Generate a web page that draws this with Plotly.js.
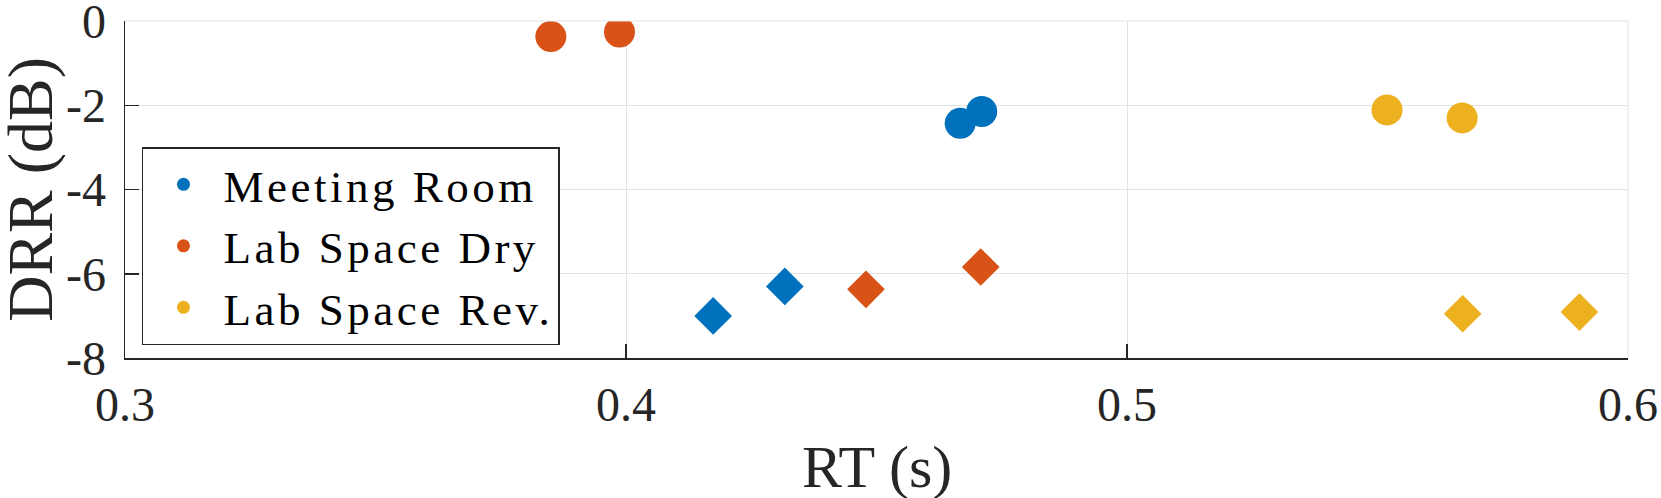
<!DOCTYPE html>
<html>
<head>
<meta charset="utf-8">
<script src="https://cdn.plot.ly/plotly-3.0.1.min.js"></script>
<style>
body{margin:0;background:#fff;}
.legendtext{letter-spacing:3.5px;}
</style>
</head>
<body>
<div id="drr" style="width:1661px;height:498px;"></div>
<script>
// rooms and their colours
var rooms = ["Meeting Room", "Lab Space Dry", "Lab Space Rev."];
var roomColors = ["#0072BD", "#D95319", "#EDB120"];

// circles: first condition, per room
var rtCircle = [[0.4667, 0.4710], [0.3850, 0.3987], [0.5519, 0.5669]];
var drrCircle = [[-2.43, -2.15], [-0.37, -0.26], [-2.11, -2.30]];

// diamonds: second condition, per room
var rtDiamond = [[0.4174, 0.4317], [0.4479, 0.4708], [0.5670, 0.5903]];
var drrDiamond = [[-7.00, -6.30], [-6.37, -5.84], [-6.95, -6.91]];

var yTicks = [-8, -6, -4, -2, 0];
var yTickText = ["-8", "-6", "-4", "-2", "0"];
var xTicks = [0.3, 0.4, 0.5, 0.6];
var xTickText = ["0.3", "0.4", "0.5", "0.6"];

var serif = "Liberation Serif, Times New Roman, serif";
var data = [];

for (var i = 0; i < rooms.length; i++) {
  data.push({
    x: rtCircle[i], y: drrCircle[i], type: "scatter", mode: "markers",
    showlegend: false, hoverinfo: "skip",
    marker: {symbol: "circle", size: 31, color: roomColors[i]}
  });
  data.push({
    x: rtDiamond[i], y: drrDiamond[i], type: "scatter", mode: "markers",
    showlegend: false, hoverinfo: "skip",
    marker: {symbol: "diamond", size: 29, color: roomColors[i]}
  });
}
// legend entries, small dots like the original
for (var j = 0; j < rooms.length; j++) {
  data.push({
    x: [null], y: [null], type: "scatter", mode: "markers", name: rooms[j],
    marker: {symbol: "circle", size: 13, color: roomColors[j]}
  });
}

var layout = {
  width: 1661, height: 498,
  margin: {l: 125, r: 33, t: 21, b: 140},
  paper_bgcolor: "#fff", plot_bgcolor: "#fff",
  font: {family: serif, color: "#262626"},
  xaxis: {
    range: [0.3, 0.6], tickvals: xTicks, ticktext: xTickText,
    ticks: "inside", ticklen: 14, tickwidth: 1.5, tickcolor: "#262626",
    showline: true, linecolor: "#262626", linewidth: 1.5,
    showgrid: true, gridcolor: "#e3e3e3", gridwidth: 1, zeroline: false,
    tickfont: {family: serif, size: 48, color: "#262626"},
    ticklabelstandoff: 4, ticklabeloverflow: "allow"
  },
  yaxis: {
    range: [-8, 0.0001], tickvals: yTicks, ticktext: yTickText,
    ticks: "inside", ticklen: 14, tickwidth: 1.5, tickcolor: "#262626",
    showline: true, linecolor: "#262626", linewidth: 1.5,
    showgrid: true, gridcolor: "#e3e3e3", gridwidth: 1, zeroline: false,
    tickfont: {family: serif, size: 48, color: "#262626"},
    ticklabelstandoff: 8, ticklabeloverflow: "allow"
  },
  annotations: [
    {text: "RT (s)", xref: "paper", yref: "paper", x: 0.5, y: -0.322,
     xanchor: "center", yanchor: "middle", showarrow: false,
     font: {family: serif, size: 60, color: "#262626"}},
    {text: "DRR (dB)", xref: "paper", yref: "paper", x: -0.063, y: 0.5, textangle: -90,
     xanchor: "center", yanchor: "middle", showarrow: false,
     font: {family: serif, size: 64, color: "#262626"}}
  ],
  legend: {
    x: 0.0113, y: 0.626, xanchor: "left", yanchor: "top",
    bgcolor: "#fff", bordercolor: "#262626", borderwidth: 1.5,
    font: {family: serif, size: 45, color: "#000"},
    itemwidth: 70
  },
  shapes: [
    {type: "line", xref: "paper", yref: "paper", x0: 0, x1: 1, y0: 1, y1: 1, line: {color: "#e3e3e3", width: 1}},
    {type: "line", xref: "paper", yref: "paper", x0: 1, x1: 1, y0: 0, y1: 1, line: {color: "#e3e3e3", width: 1}}
  ]
};

Plotly.newPlot("drr", data, layout, {staticPlot: true});
</script>
</body>
</html>
